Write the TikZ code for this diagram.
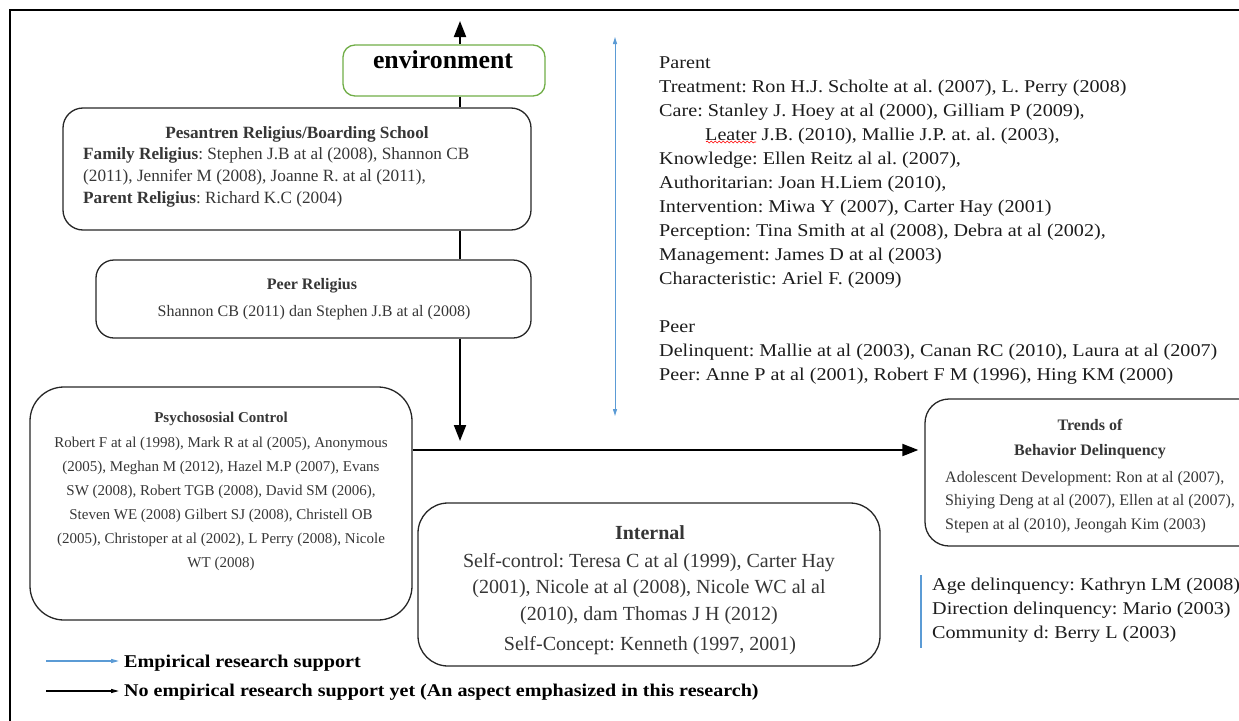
\documentclass[tikz,border=0pt]{standalone}
\usepackage{fontspec}
\setmainfont{Liberation Serif}
\newfontfamily\wideserif[FakeStretch=1.12]{Liberation Serif}
\usetikzlibrary{arrows.meta,decorations.pathmorphing}
\definecolor{boxtext}{HTML}{363636}
\definecolor{envgreen}{HTML}{70AD47}
\definecolor{blueline}{HTML}{5B9BD5}
\definecolor{coltext}{HTML}{1C1C1C}
\begin{document}
\frenchspacing
\begin{tikzpicture}[x=1pt,y=-1pt,
  box/.style={draw=black!85, line width=1.3pt, inner sep=0pt},
  btxt/.style={inner sep=0pt, text=boxtext, align=center},
  ltxt/.style={inner sep=0pt, text=coltext, align=left},
  bigarrow/.style={line width=2pt, -{Triangle[length=16pt,width=12pt]}},
  plainline/.style={line width=2pt},
  bluearrow/.style={draw=blueline, line width=1pt, {Triangle[length=7pt,width=4pt]}-{Triangle[length=7pt,width=4pt]}},
  legblue/.style={draw=blueline, line width=1.2pt, -{Triangle[length=8pt,width=4pt]}},
  legblack/.style={draw=black, line width=1.2pt, -{Triangle[length=8pt,width=4pt]}}
]
\useasboundingbox (0,0) rectangle (1239,720);
% frame
\coordinate (fbl) at (10,721);
\coordinate (ftl) at (10,10);
\coordinate (ftr) at (1240,10);
\draw[line width=2.2pt] (fbl) -- (ftl) -- (ftr);

% boxes
\node[box, draw=envgreen, rounded corners=12pt, minimum width=202pt, minimum height=51pt] (env) at (444,70.5) {};
\node[inner sep=0pt, font=\fontsize{25.8}{30}\selectfont\bfseries] (envt) at (443,60) {environment};

\node[box, rounded corners=20pt, minimum width=468pt, minimum height=122pt] (pes) at (297,169) {};
\node[btxt, anchor=north, font=\fontsize{17.2}{21.7}\selectfont\bfseries] (pest) at (297,126.8) {Pesantren Religius/Boarding School};
\node[btxt, align=left, anchor=north west, font=\fontsize{17.2}{21.8}\selectfont] (pesb) at (83,147.8)
 {\textbf{Family Religius}: Stephen J.B at al (2008), Shannon CB\\
  (2011), Jennifer M (2008), Joanne R. at al (2011),\\
  \textbf{Parent Religius}: Richard K.C (2004)};

\node[box, rounded corners=18pt, minimum width=435pt, minimum height=78pt] (peer) at (313.5,299) {};
\node[btxt, anchor=north, font=\fontsize{16}{21.7}\selectfont\bfseries] (peert) at (312,278) {Peer Religius};
\node[btxt, anchor=north, font=\fontsize{16}{21.7}\selectfont] (peerb) at (314,305) {Shannon CB (2011) dan Stephen J.B at al (2008)};

\node[box, rounded corners=34pt, minimum width=382pt, minimum height=233pt] (psy) at (221,503.5) {};
\node[btxt, anchor=north, font=\fontsize{15}{24}\selectfont\bfseries] (psyt) at (221,411.5) {Psychososial Control};
\node[btxt, anchor=north, font=\fontsize{15}{24}\selectfont] (psyb) at (221,436.5)
 {Robert F at al (1998), Mark R at al (2005), Anonymous\\
  (2005), Meghan M (2012), Hazel M.P (2007), Evans\\
  SW (2008), Robert TGB (2008), David SM (2006),\\
  Steven WE (2008) Gilbert SJ (2008), Christell OB\\
  (2005), Christoper at al (2002), L Perry (2008), Nicole\\
  WT (2008)};

\node[box, rounded corners=30pt, minimum width=462pt, minimum height=163pt] (int) at (649,584.5) {};
\node[btxt, anchor=north, font=\fontsize{20}{26.5}\selectfont\bfseries] (intt) at (650,525.8) {Internal};
\node[btxt, anchor=north, font=\fontsize{20}{26.5}\selectfont] (intb) at (649,552.8)
 {Self-control: Teresa C at al (1999), Carter Hay\\
  (2001), Nicole at al (2008), Nicole WC al al\\
  (2010), dam Thomas J H (2012)};
\node[btxt, anchor=north, font=\fontsize{20}{26.5}\selectfont] (intc) at (650,635.8) {Self-Concept: Kenneth (1997, 2001)};

\node[box, rounded corners=24pt, minimum width=360pt, minimum height=147pt] (trend) at (1105,472.5) {};
\node[btxt, anchor=north, font=\fontsize{16}{24.5}\selectfont\bfseries] (trendt) at (1090,419.5) {Trends of\\Behavior Delinquency};
\node[btxt, align=left, anchor=north west, font=\fontsize{16}{23.5}\selectfont] (trendb) at (945,471)
 {Adolescent Development: Ron at al (2007),\\
  Shiying Deng at al (2007), Ellen at al (2007),\\
  Stepen at al (2010), Jeongah Kim (2003)};

% right column
\node[ltxt, anchor=north west, font=\wideserif\fontsize{18}{24}\selectfont] (col) at (659,56.5)
 {Parent\\
  Treatment: Ron H.J. Scholte at al. (2007), L. Perry (2008)\\
  Care: Stanley J. Hoey at al (2000), Gilliam P (2009),\\
  \hspace*{46pt}Leater J.B. (2010), Mallie J.P. at. al. (2003),\\
  Knowledge: Ellen Reitz al al. (2007),\\
  Authoritarian: Joan H.Liem (2010),\\
  Intervention: Miwa Y (2007), Carter Hay (2001)\\
  Perception: Tina Smith at al (2008), Debra at al (2002),\\
  Management: James D at al (2003)\\
  Characteristic: Ariel F. (2009)\\[24pt]
  Peer\\
  Delinquent: Mallie at al (2003), Canan RC (2010), Laura at al (2007)\\
  Peer: Anne P at al (2001), Robert F M (1996), Hing KM (2000)};
\coordinate (sq1) at (706,142);
\coordinate (sq2) at (756,142);
\draw[red, line width=0.6pt, decorate, decoration={snake, amplitude=1pt, segment length=4pt}] (sq1) -- (sq2);

\node[ltxt, anchor=north west, font=\wideserif\fontsize{18}{24}\selectfont] (agetxt) at (932,578)
 {Age delinquency: Kathryn LM (2008)\\
  Direction delinquency: Mario (2003)\\
  Community d: Berry L (2003)};
\coordinate (bl1) at (921,575);
\coordinate (bl2) at (921,648);
\draw[blueline, line width=1.2pt] (bl1) -- (bl2);

% connectors
\coordinate (spine) at (460,0);
\coordinate (toptip) at (460,21);
\coordinate (downtip) at (460,441);
\coordinate (hline) at (0,450);
\draw[bigarrow] (env.north -| spine) -- (toptip);
\draw[plainline] (env.south -| spine) -- (pes.north -| spine);
\draw[plainline] (pes.south -| spine) -- (peer.north -| spine);
\draw[bigarrow] (peer.south -| spine) -- (downtip);
\draw[bigarrow, shorten >=6pt] (psy.east |- hline) -- (trend.west |- hline);

\coordinate (bt) at (615,37);
\coordinate (bb) at (615,416);
\draw[bluearrow] (bt) -- (bb);

% legend
\coordinate (lb1) at (46,661);
\coordinate (lb2) at (119,661);
\coordinate (lk1) at (46,691);
\coordinate (lk2) at (119,691);
\draw[legblue] (lb1) -- (lb2);
\draw[legblack] (lk1) -- (lk2);
\node[inner sep=0pt, anchor=west, font=\wideserif\fontsize{18}{22}\selectfont\bfseries] (leg1) at (124,663) {Empirical research support};
\node[inner sep=0pt, anchor=west, font=\wideserif\fontsize{17.9}{22}\selectfont\bfseries] (leg2) at (124,692) {No empirical research support yet (An aspect emphasized in this research)};
\end{tikzpicture}
\end{document}
